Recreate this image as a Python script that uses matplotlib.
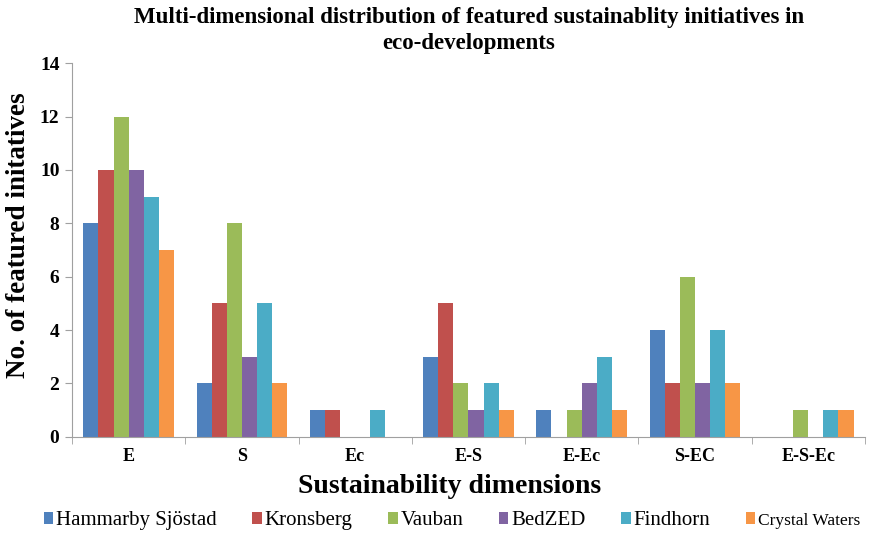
import matplotlib
matplotlib.use("Agg")
import matplotlib.pyplot as plt
import numpy as np

categories = ["E", "S", "Ec", "E-S", "E-Ec", "S-EC", "E-S-Ec"]
series_names = ["Hammarby Sjöstad", "Kronsberg", "Vauban", "BedZED", "Findhorn", "Crystal Waters"]
hammarby = [8, 2, 1, 3, 1, 4, 0]
kronsberg = [10, 5, 1, 5, 0, 2, 0]
vauban = [12, 8, 0, 2, 1, 6, 1]
bedzed = [10, 3, 0, 1, 2, 2, 0]
findhorn = [9, 5, 1, 2, 3, 4, 1]
crystal = [7, 2, 0, 1, 1, 2, 1]
yticks = [0, 2, 4, 6, 8, 10, 12, 14]

series = [hammarby, kronsberg, vauban, bedzed, findhorn, crystal]
colors = ["#4F81BD", "#C0504D", "#9BBB59", "#8064A2", "#4BACC6", "#F79646"]

plt.rcParams['font.family'] = ['Liberation Serif', 'DejaVu Serif']

fig = plt.figure(figsize=(8.78, 5.36), dpi=100)
ax = fig.add_axes([0.082, 0.185, 0.903, 0.697])

x = np.arange(len(categories))
n = len(series)
bw = 0.8 / n
for i, (vals, name, c) in enumerate(zip(series, series_names, colors)):
    ax.bar(x - 0.4 + bw * (i + 0.5), vals, width=bw, color=c, label=name)

ax.set_xlim(-0.5, len(categories) - 0.5)
ax.set_ylim(0, 14)
ax.set_yticks(yticks)
ax.set_yticklabels([str(t) for t in yticks], fontsize=14, fontweight='bold')
ax.set_xticks(x)
ax.set_xticklabels(categories, fontsize=13, fontweight='bold')
ax.tick_params(axis='x', length=0, pad=8)
ax.set_xticks(np.arange(len(categories) + 1) - 0.5, minor=True)
ax.tick_params(axis='x', which='minor', length=5, color='#A0A0A0', direction='out')
ax.tick_params(axis='y', length=5, color='#A0A0A0', direction='out', pad=4)

for s in ['top', 'right']:
    ax.spines[s].set_visible(False)
for s in ['left', 'bottom']:
    ax.spines[s].set_color('#A0A0A0')
    ax.spines[s].set_linewidth(0.8)

ax.set_ylabel("No. of featured initatives", fontsize=19.5, fontweight='bold')
ax.yaxis.set_label_coords(-0.052, 0.54)
ax.set_xlabel("Sustainability dimensions", fontsize=20, fontweight='bold')
ax.xaxis.set_label_coords(0.476, -0.1)

fig.text(0.534, 0.987, "Multi-dimensional distribution of featured sustainablity initiatives in\neco-developments",
         fontsize=16.5, fontweight='bold', ha='center', va='top', linespacing=1.3)

handles, labels = ax.get_legend_handles_labels()
leg = fig.legend(handles, labels, loc='center', bbox_to_anchor=(0.515, 0.028), ncol=6,
                 frameon=False, fontsize=15, handlelength=0.45, handleheight=0.45,
                 handletextpad=0.15, columnspacing=1.7)
for t in leg.get_texts():
    if t.get_text() == "Crystal Waters":
        t.set_fontsize(12.5)

fig.savefig("out.png", dpi=100)
